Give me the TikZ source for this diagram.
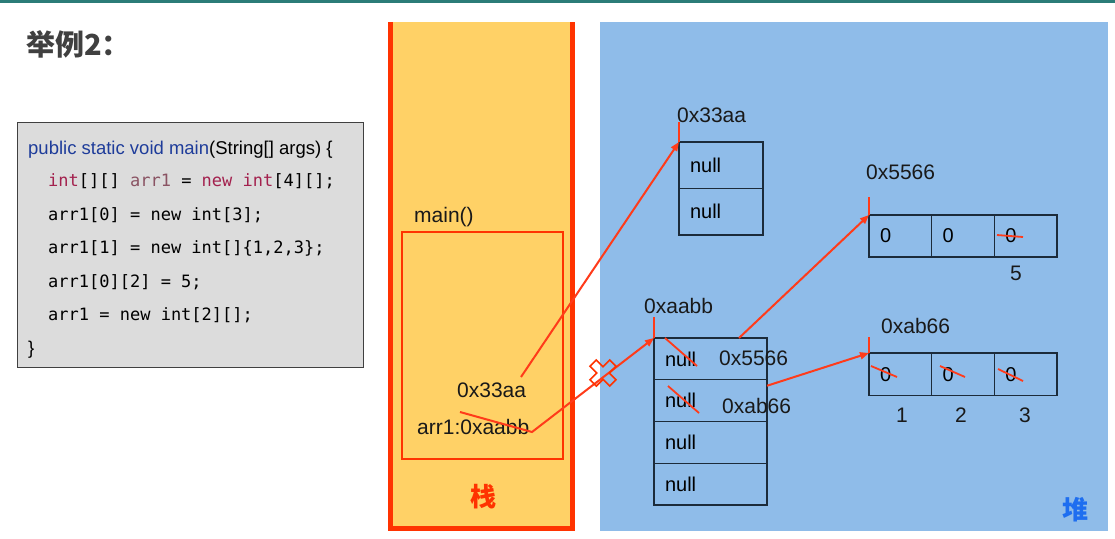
\documentclass[tikz,border=0pt]{standalone}
\usepackage{fontspec}
\setmainfont{Liberation Sans}
\setmonofont{DejaVu Sans Mono}
\newfontfamily\cjk{Noto Sans CJK SC}
\usetikzlibrary{arrows.meta,positioning}
\definecolor{stackyellow}{HTML}{FFD166}
\definecolor{heapblue}{HTML}{8FBCE9}
\definecolor{ptrred}{HTML}{FF3B1A}
\definecolor{framered}{HTML}{FF3300}
\definecolor{celledge}{HTML}{1C2B3A}
\definecolor{codegray}{HTML}{DCDCDC}
\definecolor{kwblue}{HTML}{1E3C9A}
\definecolor{kwred}{HTML}{A3214E}
\definecolor{varmauve}{HTML}{8A5363}
\definecolor{topteal}{HTML}{2B7C78}
\definecolor{heaptext}{HTML}{1E6EF0}
\definecolor{titlegray}{HTML}{404040}

\begin{document}
\begin{tikzpicture}[x=1pt, y=-1pt,
    lbl/.style={anchor=base west, inner sep=0pt, font=\fontsize{21}{25}\selectfont, text=black!90},
    src/.style={anchor=base west, inner sep=0pt, font=\ttfamily\fontsize{17}{20}\selectfont},
    cell/.style={draw=celledge, line width=1.4pt, outer sep=0pt, inner xsep=11pt, inner ysep=0pt,
                 text width=#1, align=left, font=\fontsize{20}{24}\selectfont},
    ptr/.style={draw=ptrred, line width=2pt},
    arr/.style={ptr, -{Triangle[length=9pt, width=7pt]}},
    strike/.style={draw=ptrred, line width=1.8pt},
    zone/.style={font=\cjk\bfseries\fontsize{26}{30}\selectfont}
]
\useasboundingbox (0,0) rectangle (1115,538);
\fill[white] (0,0) rectangle (1115,538);
\fill[topteal] (0,0) rectangle (1115,3);

\fill[stackyellow] (390,22) rectangle (573,530);
\draw[framered, line width=4.5pt] (390.5,22) -- (390.5,528.5) -- (572.5,528.5) -- (572.5,22);
\fill[heapblue] (600,22) rectangle (1108,531);

\node[anchor=base west, inner sep=0pt, font=\cjk\bfseries\fontsize{29}{32}\selectfont, text=titlegray] (title) at (26,55) {举例2：};

\node[draw=black!75, line width=1.2pt, fill=codegray, minimum width=346pt, minimum height=245pt, anchor=north west] (code) at (17,122) {};
\node[anchor=base west, inner sep=0pt, font=\fontsize{18.5}{22}\selectfont] (c1) at (28,154) {\textcolor{kwblue}{public static void main}(String[] args) \{};
\node[src] (c2) at (48,186.5) {\textcolor{kwred}{int}[][] \textcolor{varmauve}{arr1} = \textcolor{kwred}{new int}[4][];};
\node[src] (c3) at (48,220) {arr1[0] = new int[3];};
\node[src] (c4) at (48,253.5) {arr1[1] = new int[]\{1,2,3\};};
\node[src] (c5) at (48,287) {arr1[0][2] = 5;};
\node[src] (c6) at (48,320.5) {arr1 = new int[2][];};
\node[anchor=base west, inner sep=0pt, font=\fontsize{18.5}{22}\selectfont] (c7) at (28,354) {\}};

\node[lbl] (mainlbl) at (414,222) {main()};
\node[draw=framered, line width=2pt, minimum width=161pt, minimum height=227pt, anchor=north west, outer sep=0pt] (frame) at (402,232) {};
\node[lbl] (ref33) at (457,397) {0x33aa};
\node[lbl] (refarr) at (417,434) {arr1:0xaabb};
\node[zone, text=framered] (stk) at (483,497) {栈};
\node[zone, text=heaptext] (hp) at (1075,510) {堆};

\node[lbl] (addr33) at (677,122) {0x33aa};
\node[cell=62pt, minimum height=46.5pt, anchor=north west] (p1) at (679,142) {null};
\node[cell=62pt, minimum height=46.5pt, below=0pt of p1] (p2) {null};

\node[lbl] (addrbb) at (644,313) {0xaabb};
\node[cell=91pt, minimum height=41.75pt, anchor=north west] (q1) at (654,338) {null};
\node[cell=91pt, minimum height=41.75pt, below=0pt of q1] (q2) {null};
\node[cell=91pt, minimum height=41.75pt, below=0pt of q2] (q3) {null};
\node[cell=91pt, minimum height=41.75pt, below=0pt of q3] (q4) {null};
\node[lbl] (v5566) at (719,365) {0x5566};
\node[lbl] (vab66) at (722,413) {0xab66};

\node[lbl] (addr5566) at (866,179) {0x5566};
\node[cell=40.7pt, minimum height=42pt, anchor=north west] (r1) at (869,215) {0};
\node[cell=40.7pt, minimum height=42pt, right=0pt of r1] (r2) {0};
\node[cell=40.7pt, minimum height=42pt, right=0pt of r2] (r3) {0};
\node[lbl] (five) at (1010,280) {5};

\node[lbl] (addrab66) at (881,333) {0xab66};
\node[cell=40.7pt, minimum height=42.5pt, anchor=north west] (s1) at (869,353) {0};
\node[cell=40.7pt, minimum height=42.5pt, right=0pt of s1] (s2) {0};
\node[cell=40.7pt, minimum height=42.5pt, right=0pt of s2] (s3) {0};
\node[lbl] (one) at (896,422) {1};
\node[lbl] (two) at (955,422) {2};
\node[lbl] (three) at (1019,422) {3};

\draw[ptr] (p1.north west) -- ++(0,-20);
\draw[ptr] (q1.north west) -- ++(0,-21);
\draw[ptr] (r1.north west) -- ++(0,-18);
\draw[ptr] (s1.north west) -- ++(0,-16);

\coordinate (from33) at (521,377);
\coordinate (strk) at (460,412);
\coordinate (bend) at (532,432);
\draw[arr] (from33) -- (p1.north west);
\draw[arr] (strk) -- (bend) -- (q1.north west);
\draw[arr] ([xshift=85pt]q1.north west) -- (r1.north west);
\draw[arr] ([yshift=-6pt]q2.north east) -- (s1.north west);

\draw[strike] (665,338) -- (697,366);
\draw[strike] (668,386) -- (699,413);
\draw[strike] (997,235) -- (1023,237);
\draw[strike] (871,366) -- (897,377);
\draw[strike] (940,366) -- (965,377);
\draw[strike] (998,369) -- (1023,381);

\draw[framered, line width=1.6pt, shift={(603,373)}, rotate=45]
  (-4.5,-14) -- (4.5,-14) -- (4.5,-4.5) -- (14,-4.5) -- (14,4.5) -- (4.5,4.5)
  -- (4.5,14) -- (-4.5,14) -- (-4.5,4.5) -- (-14,4.5) -- (-14,-4.5) -- (-4.5,-4.5) -- cycle;
\end{tikzpicture}
\end{document}
